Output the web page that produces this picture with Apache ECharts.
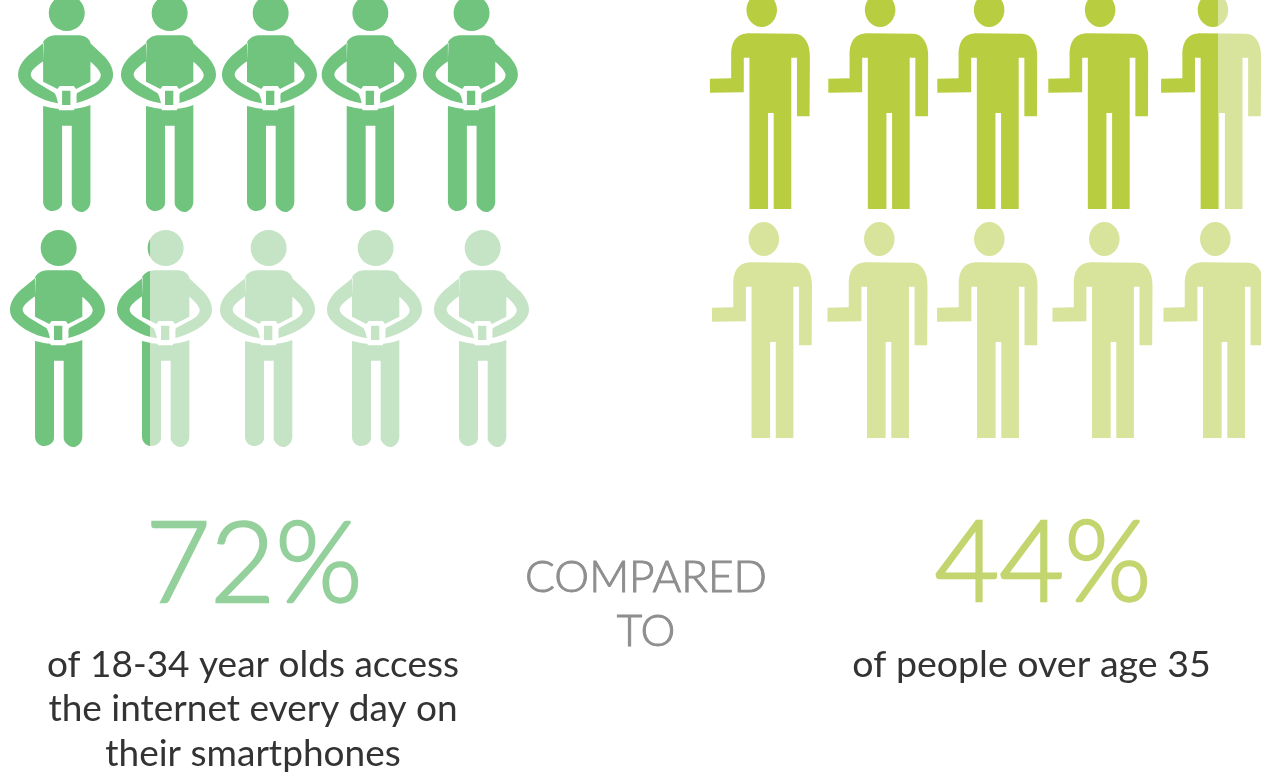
<!DOCTYPE html>
<html>
<head>
<meta charset="utf-8">
<style>html,body{margin:0;padding:0;background:#fff}#chart{width:1261px;height:777px}</style>
<script src="https://cdn.jsdelivr.net/npm/echarts@6/dist/echarts.min.js"></script>
</head>
<body>
<div id="chart"></div>
<script>
// Share of each figure that is filled, ten people per group
const youngFill = [1, 1, 1, 1, 1, 1, 0.35, 0, 0, 0];
const olderFill = [1, 1, 1, 1, 0.565, 0, 0, 0, 0, 0];
const columns = ['1', '2', '3', '4', '5'];
const rows = ['row'];

const youngPercent = 72;
const olderPercent = 44;
const youngCaption = ['of 18-34 year olds access', 'the internet every day on', 'their smartphones'];
const olderCaption = ['of people over age 35'];
const middleWords = ['COMPARED', 'TO'];

// Hands-on-hips figure
const HIPS_ICON =
  'M147,39 C147,9 171,-15 201,-15 C231,-15 255,9 255,39 C255,69 231,93 201,93 C171,93 147,69 147,39 Z ' +
  'M130,128 C135,115 150,107 165,106 L238,106 C255,107 268,115 272,128 L272,245 L229,267 L222,258 L180,258 L173,267 L130,245 Z ' +
  'M270,128 L315,170 C333,190 340,208 340,225 C340,250 315,270 295,283 C275,295 250,305 230,309 C232,298 228,288 232,279 L283,252 C295,245 303,235 303,225 C303,215 290,200 272,185 Z ' +
  'M132,128 L87,165 C65,185 55,205 55,225 C55,250 75,265 100,283 C125,298 150,306 175,310 C172,298 170,288 165,280 L115,250 C100,240 93,232 93,223 C93,213 110,197 130,184 Z ' +
  'M187,272 L212,272 L212,315 L187,315 Z ' +
  'M130,318 C150,323 165,326 176,326 L178,331 L222,331 L224,326 C240,325 255,322 272,315 L272,605 C272,625 255,636 245,636 C232,636 216,622 216,610 L216,377 L187,377 L187,610 C187,625 170,633 158,633 C142,633 130,620 130,605 Z';

// Arm-out figure
const ARM_ICON =
  'M140,30 C140,2 161,-21 186,-21 C211,-21 232,2 232,30 C232,58 211,81 186,81 C161,81 140,58 140,30 Z ' +
  'M94,235 L94,165 C94,125 110,100 150,100 L285,101 C315,102 331,130 331,170 L330,349 L292,349 L292,173 L275,173 L275,627 L222,627 L222,339 L205,339 L205,627 L149,627 L149,173 L132,173 L132,277 L30,278 L30,236 Z';

// Drawing layout for the four rows of figures
const panels = [
  { fill: youngFill.slice(0, 5), icon: HIPS_ICON, aspect: 95 / 217, dark: '#70c47e', pale: '#c5e3c5',
    grid: { left: 15, top: -5, width: 506, height: 217 }, shift: [0, 1.7, 1.5, 0, 0] },
  { fill: youngFill.slice(5), icon: HIPS_ICON, aspect: 95 / 217, dark: '#70c47e', pale: '#c5e3c5',
    grid: { left: 4.5, top: 230, width: 530, height: 217 }, shift: [0, 1, -2, -1, 0] },
  { fill: olderFill.slice(0, 5), icon: ARM_ICON, aspect: 100 / 216, dark: '#b8ce40', pale: '#d8e39b',
    grid: { left: 703.5, top: -7, width: 564, height: 216 }, shift: [0, 5.6, 1.8, 0, 0] },
  { fill: olderFill.slice(5), icon: ARM_ICON, aspect: 100 / 216, dark: '#b8ce40', pale: '#d8e39b',
    grid: { left: 705.5, top: 222, width: 565, height: 216 }, shift: [0, 2.5, -0.5, 1.5, -0.5] }
];

function figureRenderer(panel) {
  return function (params, api) {
    const col = api.value(0);
    const share = api.value(2);
    const centre = api.coord([col, api.value(1)]);
    const h = api.size([0, 1])[1];
    const w = h * panel.aspect;
    return {
      type: 'path',
      shape: {
        pathData: panel.icon,
        layout: 'cover',
        x: centre[0] + panel.shift[col] - w / 2,
        y: centre[1] - h / 2,
        width: w,
        height: h
      },
      style: {
        fill: new echarts.graphic.LinearGradient(0, 0, 1, 0, [
          { offset: 0, color: panel.dark },
          { offset: share, color: panel.dark },
          { offset: share, color: panel.pale },
          { offset: 1, color: panel.pale }
        ])
      }
    };
  };
}

const FONT = 'Lato';
function textBlock(lines, cx, top, lineHeight, size, color, weight, thicken) {
  return lines.map((line, i) => ({
    type: 'text',
    x: cx,
    y: top + i * lineHeight,
    silent: true,
    style: {
      text: line, fontFamily: FONT, fontSize: size, fontWeight: weight, fill: color,
      stroke: thicken ? color : null, lineWidth: thicken || 0,
      align: 'center', verticalAlign: 'middle'
    }
  }));
}

const chart = echarts.init(document.getElementById('chart'), null, { renderer: 'canvas' });
chart.setOption({
  animation: false,
  backgroundColor: '#ffffff',
  grid: panels.map(p => Object.assign({ outerBoundsMode: 'none' }, p.grid)),
  xAxis: panels.map((p, i) => ({ type: 'category', gridIndex: i, data: columns, show: false })),
  yAxis: panels.map((p, i) => ({ type: 'category', gridIndex: i, data: rows, show: false })),
  series: panels.map((p, i) => ({
    type: 'custom',
    xAxisIndex: i,
    yAxisIndex: i,
    clip: false,
    silent: true,
    renderItem: figureRenderer(p),
    data: p.fill.map((share, col) => [col, 0, share])
  })),
  graphic: [
    ...textBlock([youngPercent + '%'], 254, 566, 0, 112, '#94d09b', 300, 2.4),
    ...textBlock([olderPercent + '%'], 1043, 565, 0, 112, '#c3d56e', 300, 2.4),
    ...textBlock(middleWords, 646, 578, 54, 44, '#8e8e8e', 300, 1),
    ...textBlock(youngCaption, 253, 665, 44.5, 37, '#333333', 400),
    ...textBlock(olderCaption, 1031.5, 665, 44.5, 37.5, '#333333', 400)
  ]
});
</script>
</body>
</html>
